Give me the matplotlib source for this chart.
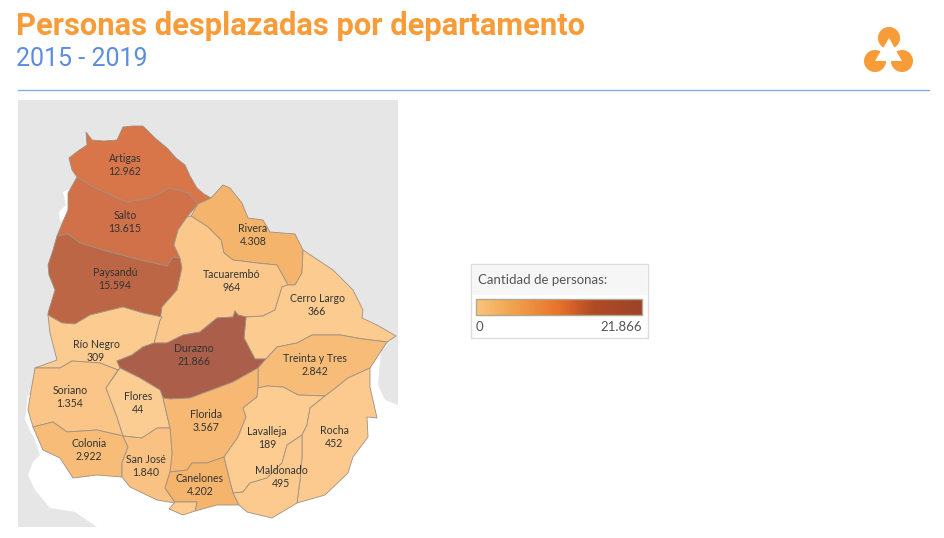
import numpy as np
import matplotlib
matplotlib.use("Agg")
import matplotlib.pyplot as plt
from matplotlib.colors import LinearSegmentedColormap, Normalize, to_rgb
from matplotlib.patches import Polygon, Rectangle, Wedge

# data
departments = ["Artigas", "Salto", "Paysandú", "Rivera", "Tacuarembó", "Cerro Largo", "Río Negro",
               "Durazno", "Treinta y Tres", "Soriano", "Flores", "Florida", "Colonia", "Lavalleja",
               "Rocha", "San José", "Canelones", "Maldonado", "Montevideo"]
persons = [12962, 13615, 15594, 4308, 964, 366, 309, 21866, 2842, 1354, 44, 3567, 2922, 189, 452,
           1840, 4202, 495, 300]
labels = ["12.962", "13.615", "15.594", "4.308", "964", "366", "309", "21.866", "2.842", "1.354", "44",
          "3.567", "2.922", "189", "452", "1.840", "4.202", "495", ""]
max_persons = 21866

shapes = {
    "Artigas": [(77,177),(72,170),(69,158),(78,151),(87,145),(86,132),(92,140),(104,141),(117,140),(123,127),(133,126),(143,126),(155,138),(167,148),(176,158),(185,165),(190,176),(197,188),(204,194),(211,198),(198,204),(188,193),(170,188),(150,198),(127,202),(115,197),(93,187)],
    "Salto": [(77,177),(93,187),(115,197),(127,202),(150,198),(170,188),(188,193),(198,204),(187,217),(178,230),(174,245),(180,258),(173,257),(167,266),(140,260),(103,250),(80,243),(68,234),(57,236),(62,224),(68,210),(68,193),(72,186)],
    "Paysandú": [(57,236),(68,234),(80,243),(103,250),(140,260),(167,266),(173,257),(180,258),(182,268),(177,290),(162,307),(162,317),(143,313),(123,307),(90,315),(75,324),(62,323),(48,315),(48,313),(55,290),(49,275),(48,265),(53,250)],
    "Rivera": [(191,216),(198,204),(211,198),(223,185),(230,188),(242,203),(248,218),(263,220),(270,232),(295,234),(303,250),(302,273),(295,285),(288,285),(277,265),(257,263),(233,260),(224,253),(221,240),(208,227)],
    "Tacuarembó": [(191,216),(208,227),(221,240),(224,253),(233,260),(257,263),(277,265),(288,285),(282,287),(278,300),(275,310),(263,316),(246,317),(238,315),(235,311),(233,317),(217,318),(200,332),(183,335),(167,343),(154,343),(160,320),(162,307),(177,290),(182,268),(180,258),(174,245),(178,230),(187,217)],
    "Cerro Largo": [(288,285),(295,285),(302,273),(303,250),(318,260),(333,270),(343,280),(353,290),(363,310),(362,318),(377,325),(396,336),(387,342),(363,339),(340,335),(312,335),(297,343),(277,347),(266,359),(255,359),(244,338),(246,317),(263,316),(275,310),(278,300),(282,287)],
    "Río Negro": [(48,315),(62,323),(75,324),(90,315),(123,307),(143,313),(162,317),(160,320),(154,343),(143,347),(132,355),(117,361),(120,368),(118,370),(100,363),(72,361),(60,368),(35,368),(57,360),(50,333)],
    "Durazno": [(154,343),(167,343),(183,335),(200,332),(217,318),(233,317),(235,311),(238,315),(246,317),(244,338),(255,359),(266,359),(258,368),(233,382),(217,388),(190,398),(170,399),(163,398),(160,390),(140,378),(120,368),(117,361),(132,355),(143,347)],
    "Treinta y Tres": [(266,359),(277,347),(297,343),(312,335),(340,335),(363,339),(387,342),(370,368),(348,378),(333,390),(325,396),(298,395),(283,387),(267,386),(258,388),(258,368)],
    "Soriano": [(35,368),(60,368),(72,361),(100,363),(118,370),(106,388),(117,417),(123,436),(97,430),(67,432),(53,422),(33,427),(28,410),(30,397)],
    "Flores": [(120,368),(140,378),(160,390),(163,398),(170,428),(157,428),(142,438),(123,436),(117,417),(106,388)],
    "Florida": [(163,398),(170,399),(190,398),(217,388),(233,382),(258,368),(258,388),(257,397),(243,408),(246,417),(238,437),(224,457),(207,463),(192,463),(187,470),(170,472),(172,453),(170,428)],
    "Colonia": [(33,427),(53,422),(67,432),(97,430),(123,436),(128,447),(122,463),(122,477),(97,475),(73,478),(60,458),(43,450)],
    "Lavalleja": [(258,388),(267,386),(283,387),(298,395),(325,396),(310,408),(307,425),(302,435),(287,445),(282,463),(267,478),(250,483),(243,492),(233,493),(230,482),(224,457),(238,437),(246,417),(243,408),(257,397)],
    "Rocha": [(325,396),(333,390),(348,378),(370,368),(370,387),(377,418),(367,417),(368,437),(353,457),(348,473),(325,495),(297,503),(300,480),(302,457),(302,435),(307,425),(310,408)],
    "San José": [(123,436),(142,438),(157,428),(170,428),(172,453),(170,472),(165,488),(175,503),(157,500),(130,487),(122,477),(122,463),(128,447)],
    "Canelones": [(170,472),(187,470),(192,463),(207,463),(224,457),(230,482),(233,493),(239,505),(217,505),(195,511),(197,502),(175,502),(165,488)],
    "Maldonado": [(233,493),(243,492),(250,483),(267,478),(282,463),(287,445),(302,435),(302,457),(300,480),(297,503),(272,518),(247,512),(239,505)],
    "Montevideo": [(175,502),(197,502),(195,511),(183,515),(169,509)],
}
label_pos = {
    "Artigas": (125,165), "Salto": (125,222), "Paysandú": (115,279), "Rivera": (253,235),
    "Tacuarembó": (232,281), "Cerro Largo": (317,305), "Río Negro": (96,351), "Durazno": (194,355),
    "Treinta y Tres": (315,365), "Soriano": (70,397), "Flores": (138,403), "Florida": (206,421),
    "Colonia": (89,450), "Lavalleja": (267,438), "Rocha": (334,437), "San José": (146,466),
    "Canelones": (200,485), "Maldonado": (281,477),
}
sea = [(28,395),(25,420),(35,440),(40,455),(33,462),(28,475),(35,490),(50,508),(75,512),(97,527),(398,527),(398,405),(385,400),(378,385),(381,350),(392,340),(380,350),(300,400),(100,400)]
river = [(63,192),(72,188),(70,212),(60,222),(59,212),(66,205)]

orange = "#f79c38"
blue = "#5c8de0"
cmap = LinearSegmentedColormap.from_list("naranja", [(0, "#fcc47f"), (0.2, "#f2a650"), (0.5, "#e8722a"), (0.6, "#cf5c2a"), (0.71, "#b04b25"), (1, "#9c432a")])
norm = Normalize(0, max_persons)
fonts = ["Lato", "DejaVu Sans"]

def faded(value):
    # map fills are the legend colour at 85% over white
    return tuple(0.85 * c + 0.15 for c in to_rgb(cmap(norm(value))))

fig = plt.figure(figsize=(9.45, 5.38), dpi=100)
ax = fig.add_axes([0, 0, 1, 1])
ax.set_xlim(0, 945)
ax.set_ylim(538, 0)
ax.axis("off")

# header
ax.text(16, 26, "Personas desplazadas por departamento", color=orange, fontsize=22.2, fontweight="bold", family="Roboto", va="center")
ax.text(16, 59, "2015 - 2019", color=blue, fontsize=18, family="Roboto", va="center")
ax.plot([18, 929], [90, 90], color="#8aa9e8", lw=1)

# logo
for cx, cy, t1, t2 in [(889, 38, 120, 60), (875, 61, 0, 300), (902, 61, 240, 180)]:
    ax.add_patch(Wedge((cx, cy), 11, t1, t2, color=orange, lw=0))

# map
ax.add_patch(Rectangle((18, 100), 380, 427, color="#e6e6e6", lw=0))
ax.add_patch(Polygon(sea, color="white", lw=0))
ax.add_patch(Polygon(river, color="white", lw=0))
for name, value in zip(departments, persons):
    ax.add_patch(Polygon(shapes[name], facecolor=faded(value), edgecolor="#a09080", lw=0.6, joinstyle="round"))
for name, label in zip(departments, labels):
    if name in label_pos:
        x, y = label_pos[name]
        ax.text(x, y, name + "\n" + label, ha="center", va="center", fontsize=7.6, color="#333333", family=fonts, linespacing=1.25)

# legend
ax.add_patch(Rectangle((471, 264), 177, 74, facecolor="white", edgecolor="#dddddd", lw=1))
ax.add_patch(Rectangle((472, 265), 175, 30, facecolor="#f6f6f6", lw=0))
ax.text(478, 280, "Cantidad de personas:", fontsize=9.5, color="#555555", family=fonts, va="center")
ax.imshow(np.linspace(0, 1, 256).reshape(1, -1), cmap=cmap, extent=(476, 642, 315, 299), aspect="auto", zorder=3)
ax.add_patch(Rectangle((476, 299), 166, 16, fill=False, edgecolor="#b0a890", lw=1, zorder=4))
ax.text(476, 327, "0", fontsize=9.5, color="#555555", family=fonts, va="center")
ax.text(642, 327, "21.866", fontsize=9.5, color="#555555", family=fonts, va="center", ha="right")
ax.set_xlim(0, 945)
ax.set_ylim(538, 0)

fig.savefig("out.png", dpi=100)
